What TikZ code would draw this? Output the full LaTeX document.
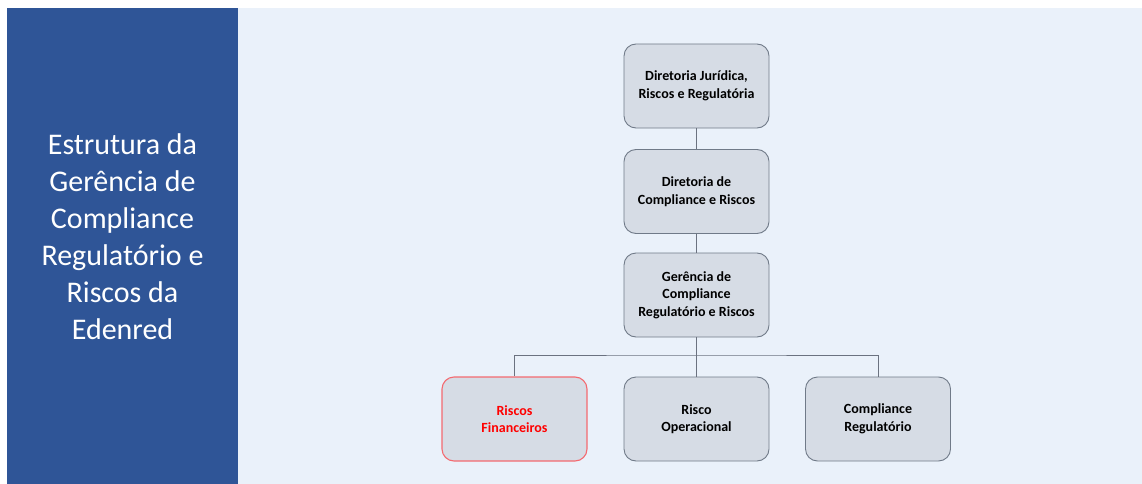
\documentclass[tikz,border=0pt]{standalone}
\usepackage{fontspec}
\setmainfont{Carlito}
\definecolor{panel}{HTML}{2F5597}
\definecolor{lightbg}{HTML}{EAF1FA}
\definecolor{boxfill}{HTML}{D6DCE5}
\definecolor{boxline}{HTML}{707A88}
\definecolor{redline}{HTML}{F46A70}
\definecolor{conn}{HTML}{6B7280}
\begin{document}
\begin{tikzpicture}[x=1pt,y=-1pt,
  box/.style={draw=boxline, fill=boxfill, rounded corners=12pt, line width=0.9pt,
    align=center, font=\fontsize{14}{17.5}\selectfont\bfseries, inner sep=0pt,
    minimum width=145pt, minimum height=84pt, text=black},
  redbox/.style={box, draw=redline, line width=1.1pt, text=red},
  title/.style={align=center, text=white, font=\fontsize{30}{37}\selectfont},
  link/.style={draw=conn, line width=0.8pt}]
\useasboundingbox (0,0) rectangle (1142,484);
\fill[white] (0,0) rectangle (1142,484);
\fill[lightbg] (238,8) rectangle (1142,484);
\fill[panel] (7,8) rectangle (238,484);
\node[title] (title) at (122.5,237) {Estrutura da\\Gerência de\\Compliance\\Regulatório e\\Riscos da\\Edenred};
\node[box] (b1) at (696.5,86) {Diretoria Jurídica,\\Riscos e Regulatória};
\node[box] (b2) at (696.5,191.5) {Diretoria de\\Compliance e Riscos};
\node[box] (b3) at (696.5,295) {Gerência de\\Compliance\\Regulatório e Riscos};
\node[redbox] (b4) at (514.5,419) {Riscos\\Financeiros};
\node[box] (b5) at (696.5,419) {Risco\\Operacional};
\node[box] (b6) at (878,419) {Compliance\\Regulatório};
\coordinate (bus) at (696.5,355);
\draw[link] (b1.south) -- (b2.north);
\draw[link] (b2.south) -- (b3.north);
\draw[link] (b3.south) -- (b5.north);
\draw[link] (b4.north) |- (bus) -| (b6.north);
\end{tikzpicture}
\end{document}
